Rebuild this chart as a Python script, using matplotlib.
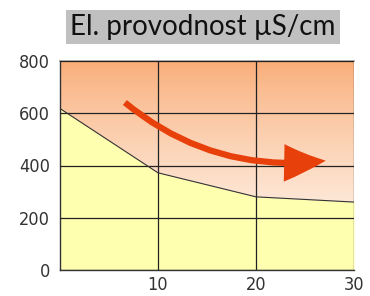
import numpy as np
import matplotlib
matplotlib.use("Agg")
import matplotlib.pyplot as plt
from matplotlib.patches import FancyArrowPatch

# Data
x_vals = [0, 10, 20, 30]
conductivity = [618, 372, 280, 260]
x_ticks = [10, 20, 30]
y_ticks = [0, 200, 400, 600, 800]
title_text = "El. provodnost µS/cm"
arrow_start = (6.4, 648)
arrow_end = (27.4, 420)

fig = plt.figure(figsize=(3.70, 2.96), dpi=100)
ax = fig.add_axes([60/370, 1-270/296, 294/370, 209/296])

# gradient background
top = np.array([249, 172, 118]) / 255
bot = np.array([255, 253, 250]) / 255
t = (np.linspace(0, 1, 256) ** 0.8)[:, None]
grad = top * (1 - t) + bot * t
img = np.repeat(grad[:, None, :], 2, axis=1)
ax.imshow(img, extent=[0, 30, 0, 800], aspect="auto", zorder=0, origin="upper")

ax.fill_between(x_vals, conductivity, 0, color="#FFFFB0", zorder=1, linewidth=0)
ax.plot(x_vals, conductivity, color="#333333", linewidth=0.8, zorder=3)

ax.set_xlim(0, 30)
ax.set_ylim(0, 800)
ax.set_xticks(x_ticks)
ax.set_yticks(y_ticks)
ax.grid(True, color="#222222", linewidth=0.9, zorder=2)
ax.set_axisbelow(False)
ax.spines["right"].set_visible(False)
ax.spines["top"].set_color("#999999")
ax.spines["top"].set_linewidth(1.2)
for s in ["left", "bottom"]:
    ax.spines[s].set_color("#333333")
    ax.spines[s].set_linewidth(1.0)
ax.tick_params(axis="y", length=0, pad=7, labelcolor="#333333")
ax.tick_params(axis="x", length=0, pad=4, labelcolor="#333333")
for lab in ax.get_xticklabels() + ax.get_yticklabels():
    lab.set_fontfamily("DejaVu Sans")
    lab.set_fontstretch("condensed")
    lab.set_fontsize(13)

arr = FancyArrowPatch(arrow_start, arrow_end, connectionstyle="arc3,rad=0.22",
                      arrowstyle="simple,head_width=2.7,head_length=3.0,tail_width=0.45",
                      mutation_scale=10, color="#E8400A", linewidth=0, zorder=5)
ax.add_patch(arr)

fig.text(203/370, 1-27/296, title_text, ha="center", va="center",
         fontsize=20, family="Lato", color="#111111",
         bbox=dict(boxstyle="square,pad=0.16", facecolor="#C0C0C0", edgecolor="none"))

fig.savefig("out.png", dpi=100)
